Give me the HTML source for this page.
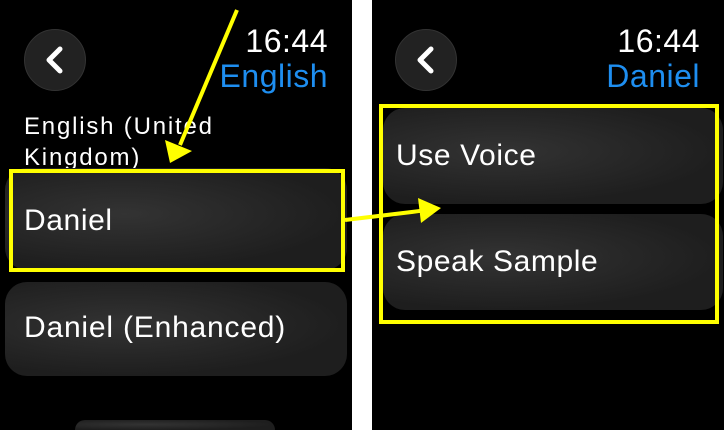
<!DOCTYPE html>
<html><head><style>
html,body{margin:0;width:724px;height:430px;overflow:hidden}
body{background:#fff;position:relative;font-family:"Liberation Sans",sans-serif}
.p{position:absolute;top:0;height:430px;background:#000;overflow:hidden}
.btn{position:absolute;width:62px;height:62px;border-radius:50%;background:#222;border:1px solid #333;box-sizing:border-box}
.t{position:absolute;color:#fff;white-space:nowrap}
.r{right:24px;text-align:right}
.card{position:absolute;border-radius:22px;background:radial-gradient(ellipse at 35% 45%,#333 0%,#1e1e1e 70%)}
.yb{position:absolute;border:4px solid #ff0;box-sizing:border-box}
</style></head><body>
<div class="p" style="left:0;width:352px">
 <div class="btn" style="left:24px;top:29px"></div>
 <div class="t r" style="top:23px;font-size:32px;letter-spacing:0.5px">16:44</div>
 <div class="t r" style="top:58px;font-size:32px;letter-spacing:0.5px;color:#1e8ef0">English</div>
 <div class="t" style="left:24px;top:111px;font-size:24px;line-height:31px;letter-spacing:1.8px">English (United<br>Kingdom)</div>
 <div class="card" style="left:5px;top:168px;width:342px;height:102px"></div>
 <div class="t" style="left:24px;top:204px;font-size:30px;letter-spacing:0.6px">Daniel</div>
 <div class="card" style="left:5px;top:282px;width:342px;height:94px"></div>
 <div class="t" style="left:24px;top:311px;font-size:30px;letter-spacing:0.8px">Daniel (Enhanced)</div>
 <div class="card" style="left:75px;top:420px;width:200px;height:10px;border-radius:14px 14px 0 0"></div>
</div>
<div class="p" style="left:372px;width:352px">
 <div class="btn" style="left:23px;top:29px"></div>
 <div class="t r" style="top:23px;font-size:32px;letter-spacing:0.5px">16:44</div>
 <div class="t r" style="top:58px;font-size:32px;letter-spacing:0.5px;color:#1e8ef0">Daniel</div>
 <div class="card" style="left:11px;top:108px;width:340px;height:96px"></div>
 <div class="t" style="left:24px;top:139px;font-size:30px;letter-spacing:0.6px">Use Voice</div>
 <div class="card" style="left:11px;top:214px;width:340px;height:96px"></div>
 <div class="t" style="left:24px;top:245px;font-size:30px;letter-spacing:0.6px">Speak Sample</div>
</div>
<div class="yb" style="left:9px;top:169px;width:336px;height:103px"></div>
<div class="yb" style="left:379px;top:104px;width:340px;height:220px"></div>
<svg width="724" height="430" style="position:absolute;left:0;top:0">
 <path d="M60,49 L49,60 L60,71 M431,49 L420,60 L431,71" fill="none" stroke="#fff" stroke-width="5" stroke-linecap="round" stroke-linejoin="round"/>
 <line x1="237" y1="10" x2="180" y2="145" stroke="#ff0" stroke-width="4"/>
 <polygon points="170,163 165,140 192,151" fill="#ff0"/>
 <line x1="345" y1="220" x2="420" y2="211" stroke="#ff0" stroke-width="4"/>
 <polygon points="441,208 418,198 421,223" fill="#ff0"/>
</svg>
</body></html>
